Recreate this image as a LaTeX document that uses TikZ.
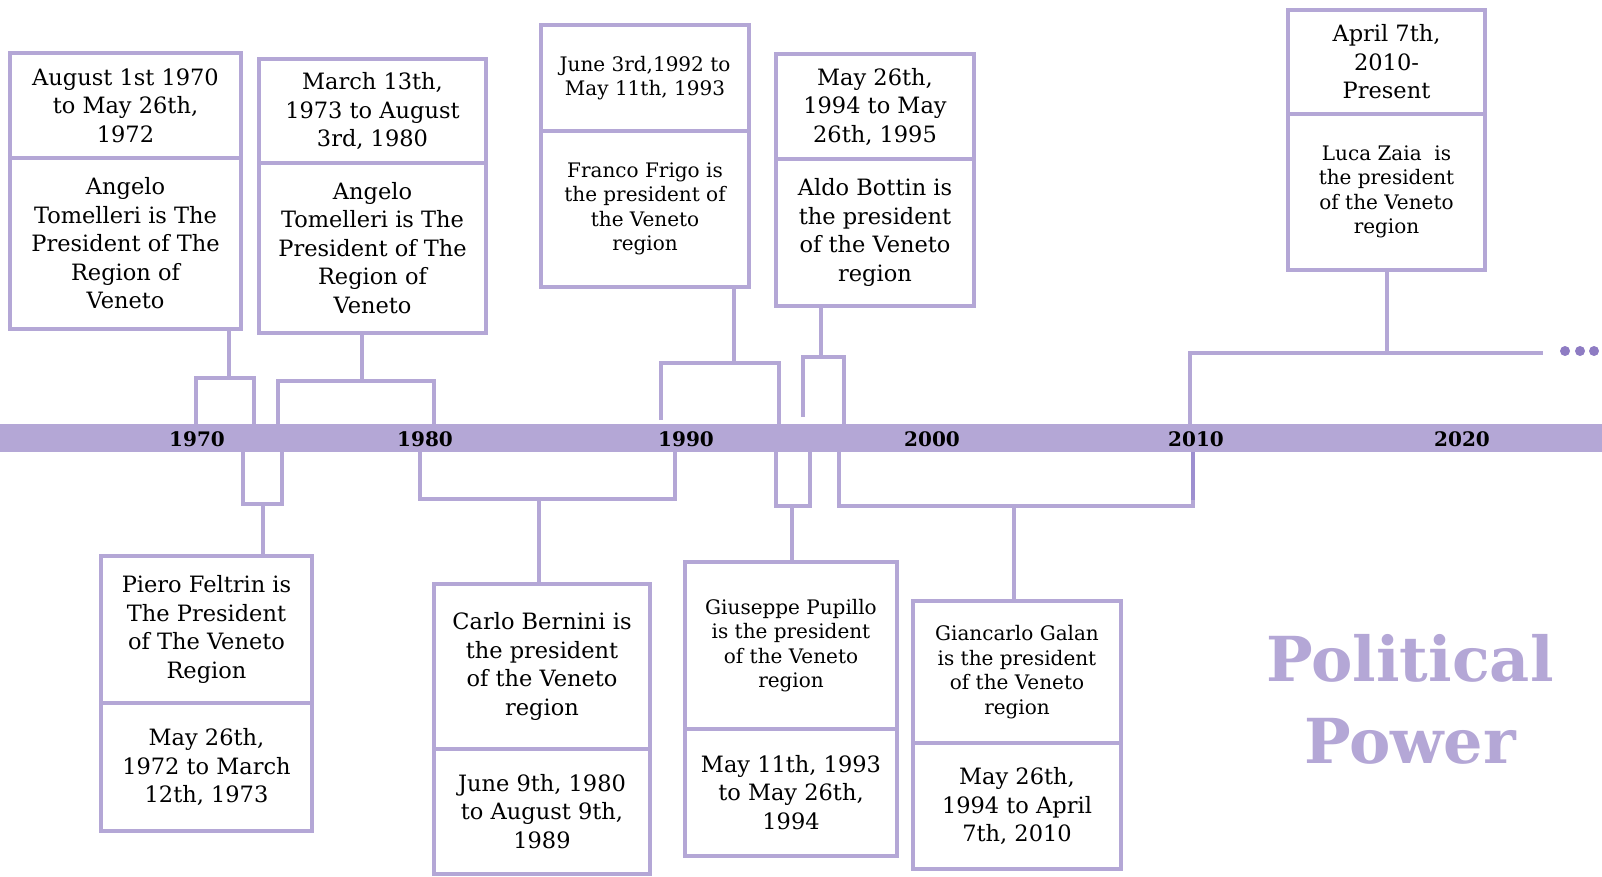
\documentclass[tikz,border=0pt]{standalone}
\usepackage{fontspec}
\setmainfont{DejaVu Serif}
\usetikzlibrary{positioning}
\definecolor{lilac}{HTML}{B4A7D6}
\definecolor{lilacmid}{HTML}{9D8FD0}
\definecolor{lilacdark}{HTML}{8E7CC3}

\begin{document}
\begin{tikzpicture}[x=1pt,y=-1pt,
  card/.style={draw=lilac,line width=4pt,outer sep=0pt,inner sep=0pt,align=center,anchor=north west,text=black},
  big/.style={font=\fontsize{22.5}{28.5}\selectfont},
  small/.style={font=\fontsize{20}{24.5}\selectfont},
  link/.style={draw=lilac,line width=4pt},
  year/.style={font=\fontsize{20}{24}\selectfont\bfseries,text=black}]
  \useasboundingbox (0,0) rectangle (1602,876);
  \node[fill=lilac,minimum width=1602pt,minimum height=28pt,inner sep=0pt,outer sep=0pt,anchor=north west] (bar) at (0,424) {};
  \foreach \yr/\xx in {1970/197,1980/425,1990/686,2000/932,2010/1196,2020/1462}
    \node[year] (y\yr) at (\xx,439) {\yr};

  \node[card,big,minimum width=231pt,minimum height=105pt] (b1a) at (10,53) {August 1st 1970\\to May 26th,\\1972};
  \node[card,big,minimum width=231pt,minimum height=171pt,below=0pt of b1a] (b1b) {Angelo\\Tomelleri is The\\President of The\\Region of\\Veneto};
  \node[card,big,minimum width=227pt,minimum height=104pt] (b2a) at (259,59) {March 13th,\\1973 to August\\3rd, 1980};
  \node[card,big,minimum width=227pt,minimum height=170pt,below=0pt of b2a] (b2b) {Angelo\\Tomelleri is The\\President of The\\Region of\\Veneto};
  \node[card,small,minimum width=208pt,minimum height=106pt] (b3a) at (541,25) {June 3rd,1992 to\\May 11th, 1993};
  \node[card,small,minimum width=208pt,minimum height=156pt,below=0pt of b3a] (b3b) {Franco Frigo is\\the president of\\the Veneto\\region};
  \node[card,big,minimum width=198pt,minimum height=105pt] (b4a) at (776,54) {May 26th,\\1994 to May\\26th, 1995};
  \node[card,big,minimum width=198pt,minimum height=147pt,below=0pt of b4a] (b4b) {Aldo Bottin is\\the president\\of the Veneto\\region};
  \node[card,big,minimum width=197pt,minimum height=104pt] (b5a) at (1288,10) {April 7th,\\2010-\\Present};
  \node[card,small,minimum width=197pt,minimum height=156pt,below=0pt of b5a] (b5b) {Luca Zaia~ is\\the president\\of the Veneto\\region};

  \node[card,big,minimum width=211pt,minimum height=147pt] (b6a) at (101,556) {Piero Feltrin is\\The President\\of The Veneto\\Region};
  \node[card,big,minimum width=211pt,minimum height=128pt,below=0pt of b6a] (b6b) {May 26th,\\1972 to March\\12th, 1973};
  \node[card,big,minimum width=216pt,minimum height=165pt] (b7a) at (434,584) {Carlo Bernini is\\the president\\of the Veneto\\region};
  \node[card,big,minimum width=216pt,minimum height=125pt,below=0pt of b7a] (b7b) {June 9th, 1980\\to August 9th,\\1989};
  \node[card,small,minimum width=212pt,minimum height=167pt] (b8a) at (685,562) {Giuseppe Pupillo\\is the president\\of the Veneto\\region};
  \node[card,big,minimum width=212pt,minimum height=127pt,below=0pt of b8a] (b8b) {May 11th, 1993\\to May 26th,\\1994};
  \node[card,small,minimum width=208pt,minimum height=142pt] (b9a) at (913,601) {Giancarlo Galan\\is the president\\of the Veneto\\region};
  \node[card,big,minimum width=208pt,minimum height=126pt,below=0pt of b9a] (b9b) {May 26th,\\1994 to April\\7th, 2010};

  \draw[link] (229,0 |- b1b.south) -- (229,378);
  \draw[link] (bar.north -| 196,0) |- (254,378) -- (bar.north -| 254,0);
  \draw[link] (362,0 |- b2b.south) -- (362,381);
  \draw[link] (bar.north -| 278,0) |- (434,381) -- (bar.north -| 434,0);
  \draw[link] (734,0 |- b3b.south) -- (734,363);
  \draw[link,shorten <=4pt] (bar.north -| 661,0) |- (779,363) -- (bar.north -| 779,0);
  \draw[link] (821,0 |- b4b.south) -- (821,357);
  \draw[link,shorten <=7pt] (bar.north -| 803,0) |- (844,357) -- (bar.north -| 844,0);
  \draw[link] (1387,0 |- b5b.south) -- (1387,353);
  \draw[link] (bar.north -| 1190,0) |- (1543,353);
  \foreach \xx in {1565,1580,1594}
    \fill[lilacdark] (\xx,351) circle (5pt);

  \draw[link] (bar.south -| 243,0) |- (282,504) -- (bar.south -| 282,0);
  \draw[link] (263,504) -- (263,0 |- b6a.north);
  \draw[link] (bar.south -| 420,0) |- (675,499) -- (bar.south -| 675,0);
  \draw[link] (539,499) -- (539,0 |- b7a.north);
  \draw[link] (bar.south -| 776,0) |- (810,506) -- (bar.south -| 810,0);
  \draw[link] (792,506) -- (792,0 |- b8a.north);
  \draw[link] (bar.south -| 839,0) |- (1193,506) -- (bar.south -| 1193,0);
  \draw[link,draw=lilacmid] (bar.south -| 1193,0) -- (1193,500);
  \draw[link] (1014,506) -- (1014,0 |- b9a.north);

  \node[text=lilac,font=\fontsize{62}{82}\selectfont\bfseries,align=center] (title) at (1410,699) {Political\\Power};
\end{tikzpicture}
\end{document}
